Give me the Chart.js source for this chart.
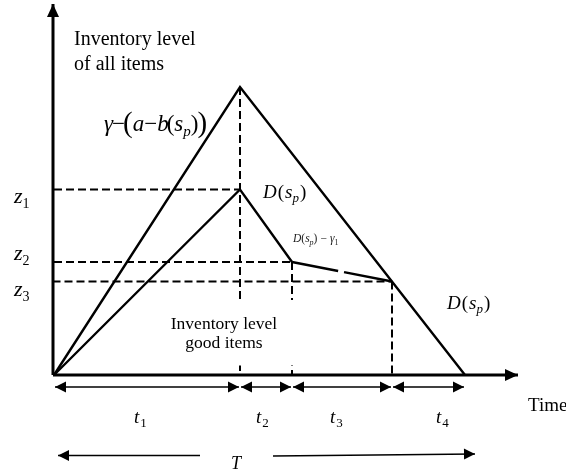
<!DOCTYPE html>
<html>
<head>
  <title>Inventory level diagram</title>
  <script src="https://cdn.jsdelivr.net/npm/chart.js"></script>
  <style>
    body { margin: 0; background: #fff; }
    #wrap { width: 566px; height: 473px; }
  </style>
</head>
<body>
  <div id="wrap"><canvas id="myChart"></canvas></div>

  <script>
// tiempos: fin de t1, t2, t3, t4 (unidades arbitrarias)
const tEnds = [0, 3.72, 4.76, 6.76, 8.22];
const tNames = ['1', '2', '3', '4'];
// niveles de inventario
const peakLevel = 5.76;
const zLevels = [3.71, 2.26, 1.87];
const zNames = ['1', '2', '3'];

// todos los items: sube hasta el pico en t1 y baja hasta T
const allX = [tEnds[0], tEnds[1], tEnds[4]];
const allY = [0, peakLevel, 0];
// items buenos: 0 -> z1 -> z2 -> z3
const goodX = [tEnds[0], tEnds[1], tEnds[2], tEnds[3]];
const goodY = [0, zLevels[0], zLevels[1], zLevels[2]];

const pts = (xs, ys) => xs.map((x, i) => ({ x: x, y: ys[i] }));

const solid = (data, extra) => Object.assign({
  data: data, borderColor: '#000', borderWidth: 2.4, pointRadius: 0,
  showLine: true, tension: 0, fill: false
}, extra || {});
const dashed = (data) => solid(data, { borderWidth: 2, borderDash: [8, 4] });

const datasets = [
  dashed(pts([0, tEnds[1]], [zLevels[0], zLevels[0]])),
  dashed(pts([0, tEnds[2]], [zLevels[1], zLevels[1]])),
  dashed(pts([-0.03, tEnds[3]], [zLevels[2], zLevels[2]])),
  dashed(pts([tEnds[1], tEnds[1]], [peakLevel, 0])),
  dashed(pts([tEnds[2], tEnds[2]], [zLevels[1], 0])),
  dashed(pts([tEnds[3], tEnds[3]], [zLevels[2], 0])),
  solid(pts(allX, allY)),
  solid(pts(goodX, goodY), {
    segment: { borderDash: c => c.p0DataIndex === 2 ? [47, 6, 200] : undefined }
  })
];

const serif = '"Liberation Serif", "Times New Roman", serif';

// dibuja texto por partes (para subindices)
function drawParts(ctx, x, y, parts) {
  let cx = x;
  parts.forEach(p => {
    ctx.font = p[1];
    ctx.fillText(p[0], cx, y + (p[2] || 0));
    cx += ctx.measureText(p[0]).width + (p[3] || 0);
  });
}

function head(ctx, x, y, ang, len, half) {
  ctx.save();
  ctx.translate(x, y);
  ctx.rotate(ang);
  ctx.beginPath();
  ctx.moveTo(0, 0);
  ctx.lineTo(-len, -half);
  ctx.lineTo(-len, half);
  ctx.closePath();
  ctx.fill();
  ctx.restore();
}

function arrow(ctx, x1, y1, x2, y2, both, lw, len, half) {
  ctx.lineWidth = lw;
  ctx.beginPath();
  ctx.moveTo(x1, y1);
  ctx.lineTo(x2, y2);
  ctx.stroke();
  const a = Math.atan2(y2 - y1, x2 - x1);
  head(ctx, x2, y2, a, len, half);
  if (both) head(ctx, x1, y1, a + Math.PI, len, half);
}

const diagram = {
  id: 'diagram',
  afterDatasetsDraw(chart) {
    const ctx = chart.ctx;
    const px = v => chart.scales.x.getPixelForValue(v);
    const py = v => chart.scales.y.getPixelForValue(v);
    ctx.save();
    ctx.fillStyle = '#000';
    ctx.strokeStyle = '#000';

    // ejes
    arrow(ctx, px(-0.02), py(0), px(9.28), py(0), false, 3, 13, 6);
    arrow(ctx, px(-0.02), py(0), px(-0.02), py(7.42), false, 3, 13, 6);

    // cotas t1..t4
    for (let i = 0; i < 4; i++) {
      arrow(ctx, px(tEnds[i]) + 1, py(-0.24), px(tEnds[i + 1]) - 1, py(-0.24), true, 1.6, 11, 5.5);
    }
    // T
    arrow(ctx, px(2.92), py(-1.61), px(0.08), py(-1.61), false, 1.6, 11, 5.5);
    arrow(ctx, px(4.38), py(-1.62), px(8.42), py(-1.58), false, 1.6, 11, 5.5);

    // fondo blanco del texto inferior
    ctx.fillStyle = '#fff';
    ctx.fillRect(px(2.3), py(1.5), px(4.9) - px(2.3), py(0.19) - py(1.5));
    ctx.fillStyle = '#000';

    ctx.textBaseline = 'alphabetic';
    ctx.textAlign = 'left';
    ctx.font = '20px ' + serif;
    ctx.fillText('Inventory level', 74, 45);
    ctx.fillText('of all items', 74, 70);

    ctx.textAlign = 'center';
    ctx.font = '17.5px ' + serif;
    ctx.fillText('Inventory level', 224, 329);
    ctx.fillText('good items', 224, 348);
    ctx.textAlign = 'left';

    ctx.font = '19px ' + serif;
    ctx.fillText('Time', 528, 411);

    // formula gamma
    const it = 'italic 23px ' + serif, up = '23px ' + serif, big = '29px ' + serif;
    drawParts(ctx, 104, 131, [
      ['γ', it, 0, -1], ['−', up, 0, -2], ['(', big, 1, 0], ['a', it, 0, 0],
      ['−', up, 0, 0], ['b', it, 0, -2], ['(', up], ['s', it],
      ['p', 'italic 15px ' + serif, 5], [')', up, 0, -1], [')', big, 1]
    ]);

    // D(s_p)
    const dFont = 'italic 19px ' + serif, dUp = '19px ' + serif, dSub = 'italic 13px ' + serif;
    const dParts = [['D', dFont, 0, 1], ['(', dUp, 0, 1], ['s', dFont], ['p', dSub, 4, 1], [')', dUp]];
    drawParts(ctx, 263, 198, dParts);
    drawParts(ctx, 447, 309, dParts);

    ctx.fillStyle = '#222';
    drawParts(ctx, 293, 242, [
      ['D', 'italic 11.5px ' + serif], ['(', '11.5px ' + serif], ['s', 'italic 11.5px ' + serif],
      ['p', 'italic 8px ' + serif, 3], [')', '11.5px ' + serif, 0, 3], ['−', '11.5px ' + serif, 0, 3],
      ['γ', 'italic 11.5px ' + serif], ['1', '8px ' + serif, 3]
    ]);
    ctx.fillStyle = '#000';

    // z1..z3
    const zBase = [203, 260, 296];
    zNames.forEach((n, i) => {
      drawParts(ctx, 14, zBase[i], [['z', 'italic 22px ' + serif], [n, '14px ' + serif, 5]]);
    });

    // t1..t4 y T
    const tPos = [134, 256, 330, 436];
    tNames.forEach((n, i) => {
      drawParts(ctx, tPos[i], 423, [['t', 'italic 19px ' + serif, 0, 1], [n, '13px ' + serif, 4]]);
    });
    drawParts(ctx, 231, 469, [['T', 'italic 18px ' + serif]]);

    ctx.restore();
  }
};

new Chart(document.getElementById('myChart'), {
  type: 'scatter',
  data: { datasets: datasets },
  options: {
    responsive: true,
    maintainAspectRatio: false,
    animation: false,
    layout: { padding: 0 },
    plugins: { legend: { display: false }, tooltip: { enabled: false } },
    scales: {
      x: { type: 'linear', display: false, min: -1.08, max: 10.24 },
      y: { type: 'linear', display: false, min: -1.96, max: 7.5 }
    }
  },
  plugins: [diagram]
});
  </script>
</body>
</html>
